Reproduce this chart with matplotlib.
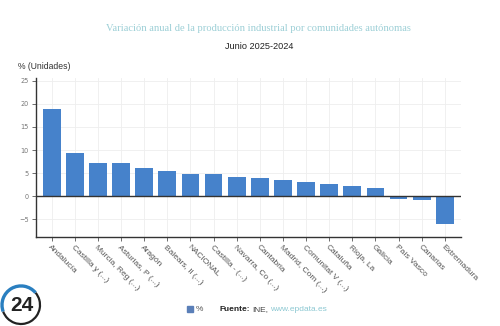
import matplotlib
matplotlib.use("Agg")
import matplotlib.pyplot as plt
from matplotlib.patches import Arc, Rectangle

categories = ["Andalucía", "Castilla y (...)", "Murcia, Reg (...)", "Asturias, P (...)",
              "Aragón", "Balears, Il (...)", "NACIONAL", "Castilla - (...)",
              "Navarra, Co (...)", "Cantabria", "Madrid, Com (...)", "Comunitat V (...)",
              "Cataluña", "Rioja, La", "Galicia", "País Vasco", "Canarias", "Extremadura"]
values = [18.8, 9.3, 7.3, 7.3, 6.2, 5.4, 4.9, 4.9, 4.1, 4.0, 3.5, 3.0, 2.6, 2.2, 1.7, -0.5, -0.9, -5.9]
yticks = [-5, 0, 5, 10, 15, 20, 25]

plt.rcParams['font.family'] = ['Liberation Sans', 'DejaVu Sans']
fig = plt.figure(figsize=(5.0, 3.26), dpi=100)
ax = fig.add_axes([0.071, 0.273, 0.851, 0.488])

x = list(range(len(categories)))
ax.bar(x, values, width=0.77, color="#4682cb", zorder=3)
ax.axhline(0, color="#333333", lw=1.0, zorder=4)
ax.set_xlim(-0.7, 17.7)
ax.set_ylim(-8.8, 25.6)
ax.set_yticks(yticks)
ax.set_yticklabels([str(t).replace("-", "\u2212") for t in yticks], fontsize=4.7,
                   color="#777777", family="DejaVu Sans")
ax.set_xticks(x)
ax.set_xticklabels(categories, rotation=-45, ha="left", va="top", rotation_mode="anchor",
                   fontsize=6, color="#555555")
ax.tick_params(axis="x", length=3, width=0.6, color="#555555", pad=2)
ax.tick_params(axis="y", length=3, width=0.6, color="#555555", pad=2)
ax.grid(True, color="#eeeeee", lw=0.6, zorder=0)
for s in ["top", "right"]:
    ax.spines[s].set_visible(False)
for s in ["left", "bottom"]:
    ax.spines[s].set_color("#333333")
    ax.spines[s].set_linewidth(1.0)

fig.text(0.516, 0.913, "Variación anual de la producción industrial por comunidades autónomas",
         ha="center", va="center", fontsize=7.6, color="#9ccfd6", family="Liberation Serif")
fig.text(0.518, 0.856, "Junio 2025-2024", ha="center", va="center", fontsize=6.6, color="#222222")
fig.text(0.036, 0.795, "% (Unidades)", ha="left", va="center", fontsize=6.2, color="#333333")

# legend / source
fig.patches.append(Rectangle((0.374, 0.043), 0.012, 0.019, transform=fig.transFigure,
                             color="#5a7fb8", figure=fig))
fig.text(0.392, 0.052, "%", ha="left", va="center", fontsize=6.0, color="#555555")
fig.text(0.440, 0.052, "Fuente:", ha="left", va="center", fontsize=6.0, color="#222222",
         fontweight="bold")
fig.text(0.504, 0.052, "INE,", ha="left", va="center", fontsize=6.0, color="#444444")
fig.text(0.540, 0.052, "www.epdata.es", ha="left", va="center", fontsize=6.0, color="#8cc8d2")

# logo
lax = fig.add_axes([0.0, 0.0, 0.084, 0.129])
lax.set_xlim(-1.05, 1.05)
lax.set_ylim(-1.05, 1.05)
lax.axis("off")
lax.add_patch(Arc((0, 0), 1.9, 1.9, theta1=200, theta2=40, color="#222222", lw=1.6))
lax.add_patch(Arc((0, 0), 1.9, 1.9, theta1=40, theta2=200, color="#2a7fc0", lw=2.4))
lax.text(0.02, -0.05, "24", ha="center", va="center", fontsize=15, fontweight="bold", color="#222222")

fig.savefig("out.png", dpi=100)
